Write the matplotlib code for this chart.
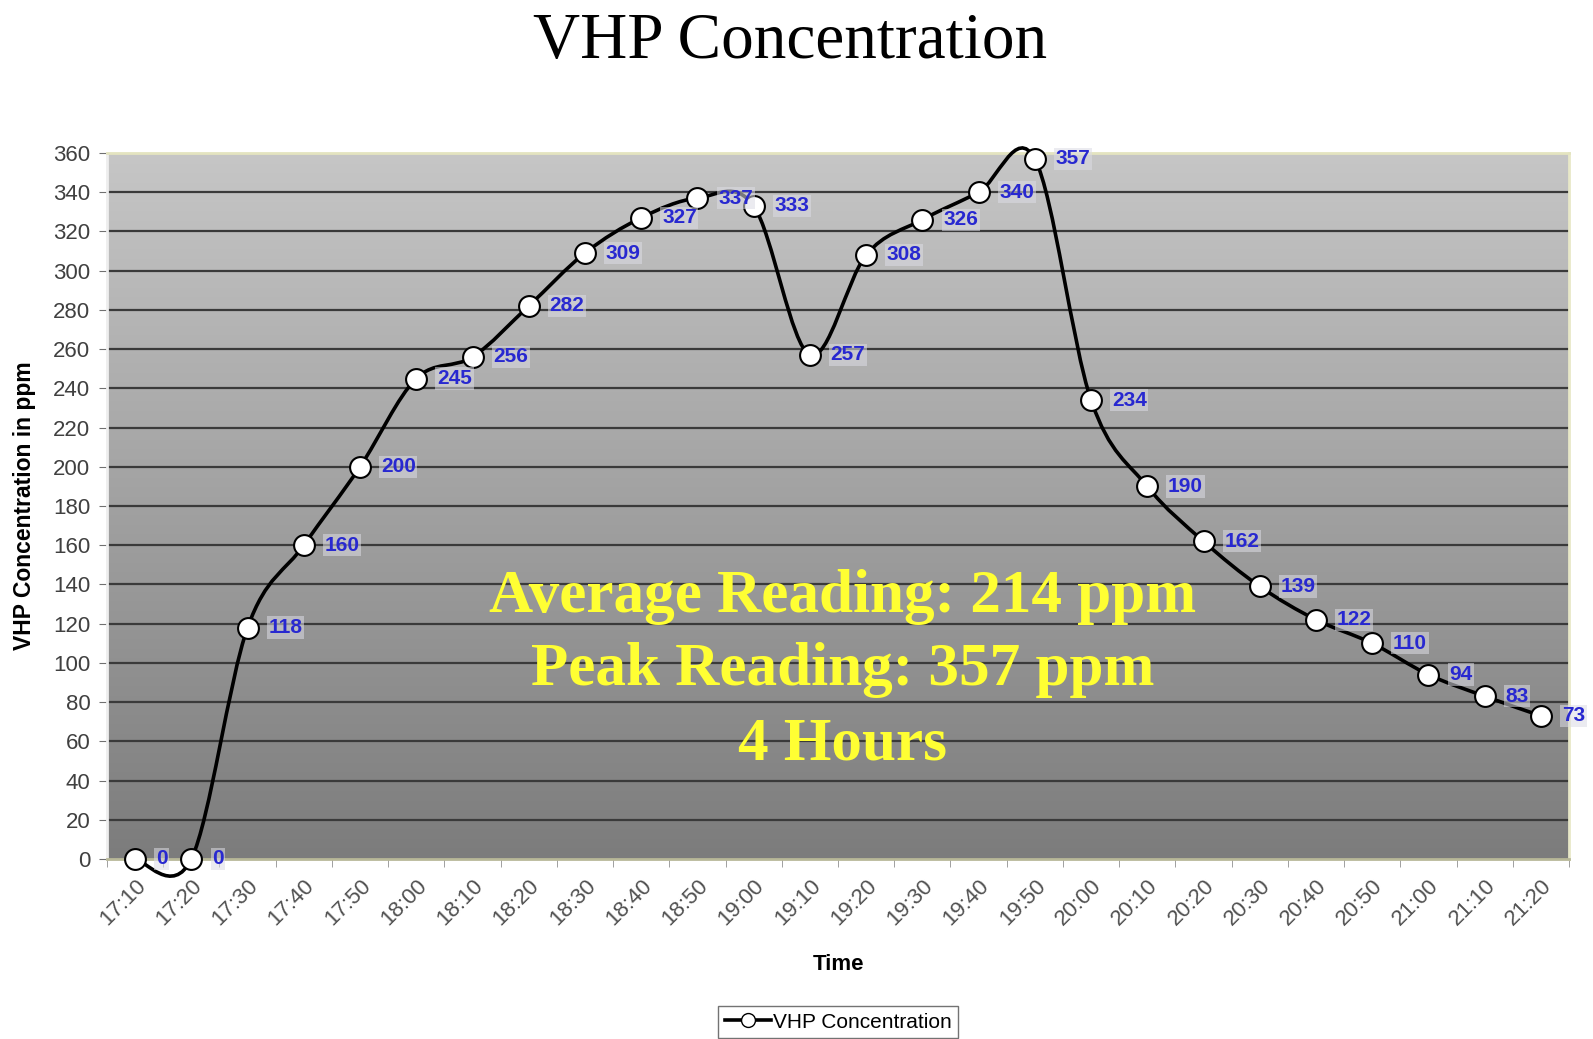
import numpy as np
import matplotlib.pyplot as plt
from matplotlib.path import Path
from matplotlib.patches import PathPatch
from matplotlib.lines import Line2D

times = ['17:10', '17:20', '17:30', '17:40', '17:50', '18:00', '18:10', '18:20',
         '18:30', '18:40', '18:50', '19:00', '19:10', '19:20', '19:30', '19:40',
         '19:50', '20:00', '20:10', '20:20', '20:30', '20:40', '20:50', '21:00',
         '21:10', '21:20']
ppm = [0, 0, 118, 160, 200, 245, 256, 282, 309, 327, 337, 333, 257, 308, 326,
       340, 357, 234, 190, 162, 139, 122, 110, 94, 83, 73]
notes = ['Average Reading: 214 ppm', 'Peak Reading: 357 ppm', '4 Hours']

W, H = 1593, 1039
fig = plt.figure(figsize=(W / 100, H / 100), dpi=100)
fig.patch.set_facecolor('white')
ax = fig.add_axes([107 / W, 1 - 859 / H, (1569 - 107) / W, (859 - 153) / H])

x = np.arange(len(ppm))
y = np.array(ppm, dtype=float)
ax.set_xlim(-0.5, len(ppm) - 0.5)
ax.set_ylim(0, 360)

# gradient background, light at top
grad = np.linspace(0, 1, 256).reshape(-1, 1)
ax.imshow(grad, cmap=plt.matplotlib.colors.LinearSegmentedColormap.from_list(
    'g', ['#c6c6c6', '#7c7c7c']), aspect='auto', origin='upper',
    extent=(-0.5, len(ppm) - 0.5, 0, 360), zorder=0)

for v in range(20, 360, 20):
    ax.axhline(v, color='#3a3a3a', lw=1.6, zorder=1)

# smoothed line (Catmull-Rom as cubic bezier)
pts = np.column_stack([x, y])
ext = np.vstack([pts[0], pts, pts[-1]])
verts = [tuple(pts[0])]
codes = [Path.MOVETO]
for i in range(len(pts) - 1):
    p0, p1, p2, p3 = ext[i], ext[i + 1], ext[i + 2], ext[i + 3]
    c1 = p1 + (p2 - p0) / 6
    c2 = p2 - (p3 - p1) / 6
    verts += [tuple(c1), tuple(c2), tuple(p2)]
    codes += [Path.CURVE4] * 3
ax.add_patch(PathPatch(Path(verts, codes), facecolor='none', edgecolor='black',
                       lw=2.6, zorder=3, clip_on=False))
ax.plot(x, y, linestyle='none', marker='o', ms=15, mfc='white', mec='black',
        mew=1.5, zorder=4, clip_on=False)

for xi, yi in zip(x, ppm):
    ax.annotate(str(yi), (xi, yi), xytext=(15, 0), textcoords='offset points',
                ha='left', va='center', fontsize=15, fontweight='bold',
                color='#2828d0', family='Liberation Sans', zorder=5,
                bbox=dict(boxstyle='square,pad=0.08', fc='#dcdce4', ec='none', alpha=0.55))

for k, t in enumerate(notes):
    fig.text(843 / W, 1 - (597 + 73.5 * k) / H, t, ha='center', va='center',
             fontsize=44, fontweight='bold', color='#ffff33', family='Liberation Serif')

ax.set_xticks(x)
ax.set_xticklabels(times, rotation=45, ha='right', rotation_mode='anchor',
                   fontsize=16, color='#505050', family='Liberation Sans')
ax.set_xticks(np.arange(-0.5, len(ppm)), minor=True)
ax.tick_params(axis='x', which='major', length=0, pad=12)
ax.tick_params(axis='x', which='minor', length=6, color='#909090', direction='out')
ax.set_yticks(range(0, 361, 20))
ax.set_yticklabels([str(v) for v in range(0, 361, 20)], fontsize=16,
                   color='#404040', family='Liberation Sans')
ax.tick_params(axis='y', length=6, color='#707070', pad=6)

ax.spines['top'].set_color('#e4e4c0')
ax.spines['bottom'].set_color('#b8b898')
ax.spines['left'].set_color('#eeeeee')
ax.spines['right'].set_color('#e8e8c8')
for s in ax.spines.values():
    s.set_linewidth(2)

fig.text(790 / W, 1 - 42 / H, 'VHP Concentration', ha='center', va='center',
         fontsize=47, family='Liberation Serif')
fig.text(839 / W, 1 - 965 / H, 'Time', ha='center', va='center', fontsize=16,
         fontweight='bold', family='Liberation Sans')
fig.text(25 / W, 1 - 506 / H, 'VHP Concentration in ppm', ha='center', va='center',
         rotation=90, fontsize=16.5, fontweight='bold', family='Liberation Sans')

handle = Line2D([], [], color='black', lw=2.6, marker='o', ms=10, mfc='white',
                mec='black')
leg = fig.legend([handle], ['VHP Concentration'], loc='center',
                 bbox_to_anchor=(838 / W, 1 - 1022 / H), fancybox=False,
                 edgecolor='#505050', handlelength=2.2, handletextpad=0.1,
                 borderpad=0.3, prop={'family': 'Liberation Sans', 'size': 15})
leg.get_frame().set_linewidth(1)

fig.savefig('out.png', dpi=100)
